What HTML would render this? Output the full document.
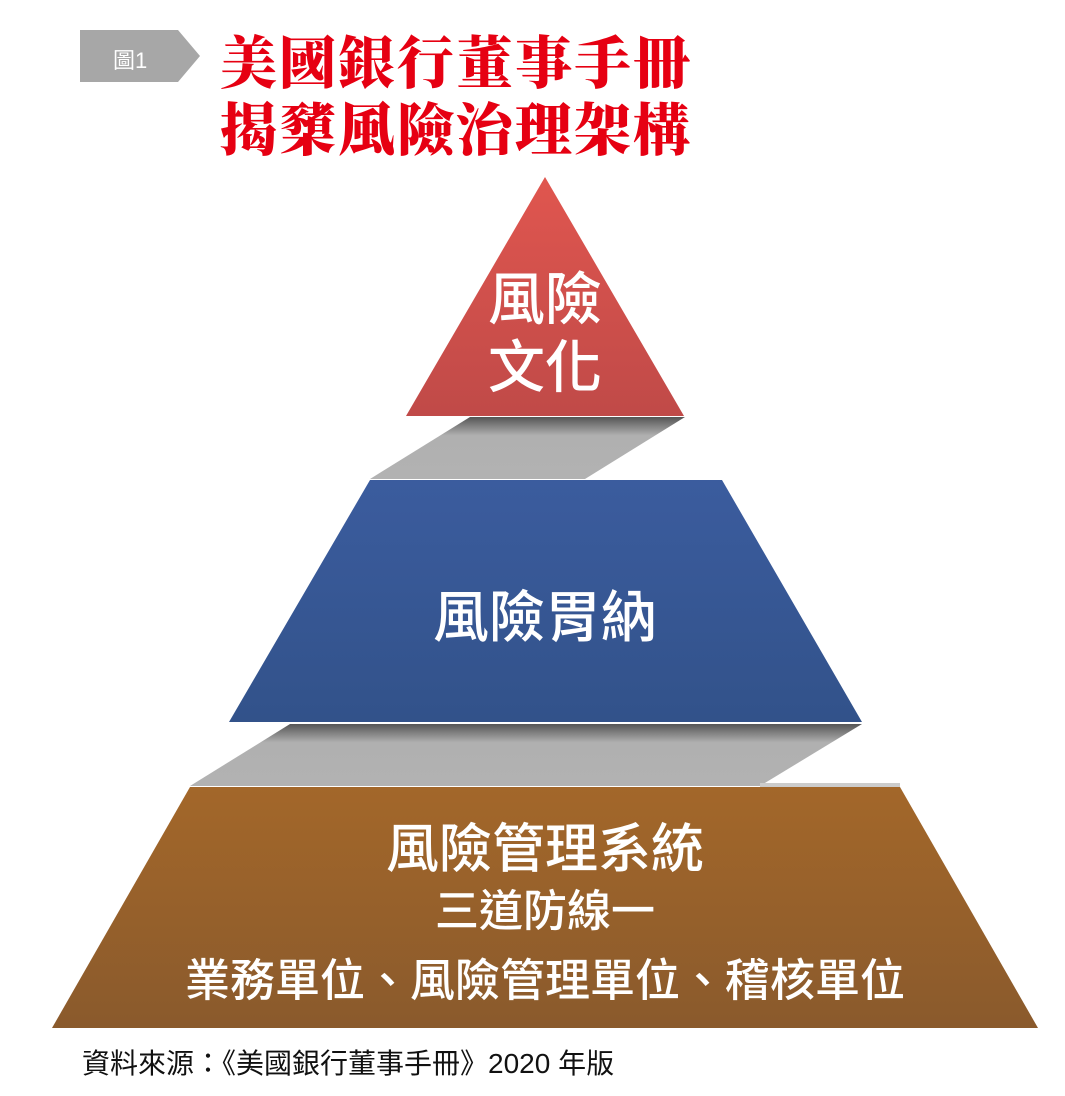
<!DOCTYPE html>
<html><head><meta charset="utf-8"><style>
body{margin:0;width:1065px;height:1096px;background:#fff;overflow:hidden;position:relative;font-family:"Liberation Sans","Noto Sans CJK TC",sans-serif}
.t{position:absolute;left:220px;font-family:"Liberation Serif","Noto Serif CJK SC",serif;font-weight:900;color:#e60012;font-size:57px;letter-spacing:2px;line-height:1}
.w{position:absolute;left:25px;width:1040px;text-align:center;color:#fff;line-height:1;font-weight:500}
</style></head><body>
<svg width="1065" height="1096" style="position:absolute;left:0;top:0">
<defs>
<linearGradient id="r" x1="0" y1="0" x2="0" y2="1"><stop offset="0" stop-color="#e0564f"/><stop offset="1" stop-color="#c04a48"/></linearGradient>
<linearGradient id="b" x1="0" y1="0" x2="0" y2="1"><stop offset="0" stop-color="#3b5c9e"/><stop offset="1" stop-color="#32528a"/></linearGradient>
<linearGradient id="o" x1="0" y1="0" x2="0" y2="1"><stop offset="0" stop-color="#a3672a"/><stop offset="1" stop-color="#8a5a2c"/></linearGradient>
<linearGradient id="g" x1="0" y1="0" x2="0" y2="1"><stop offset="0" stop-color="#555"/><stop offset="0.3" stop-color="#b0b0b0"/><stop offset="1" stop-color="#b2b2b2"/></linearGradient>
</defs>
<polygon points="80,30 178,30 200,56 178,82 80,82" fill="#a7a7a7"/>
<polygon points="470,417 685,417 585,479 370,479" fill="url(#g)"/>
<polygon points="290,724 862,724 760,786 190,786" fill="url(#g)"/>
<rect x="760" y="783" width="140" height="4" fill="#ccc"/>
<polygon points="545,177 684,416 406,416" fill="url(#r)"/>
<polygon points="370,480 722,480 862,722 229,722" fill="url(#b)"/>
<polygon points="190,787 900,787 1038,1028 52,1028" fill="url(#o)"/>
</svg>
<div style="position:absolute;left:113px;top:43px;color:#fff;font-size:22px">圖1</div>
<div class="t" style="top:36px">美國銀行董事手冊</div>
<div class="t" style="top:103px">揭櫫風險治理架構</div>
<div class="w" style="top:272px;font-size:57px">風險</div>
<div class="w" style="top:340px;font-size:57px">文化</div>
<div class="w" style="top:590px;font-size:56px">風險胃納</div>
<div class="w" style="top:823px;font-size:53px">風險管理系統</div>
<div class="w" style="top:890px;font-size:44px">三道防線一</div>
<div class="w" style="top:958px;font-size:45px">業務單位、風險管理單位、稽核單位</div>
<div style="position:absolute;left:82px;top:1042px;font-size:28px;color:#111">資料來源：《美國銀行董事手冊》2020 年版</div>
</body></html>
